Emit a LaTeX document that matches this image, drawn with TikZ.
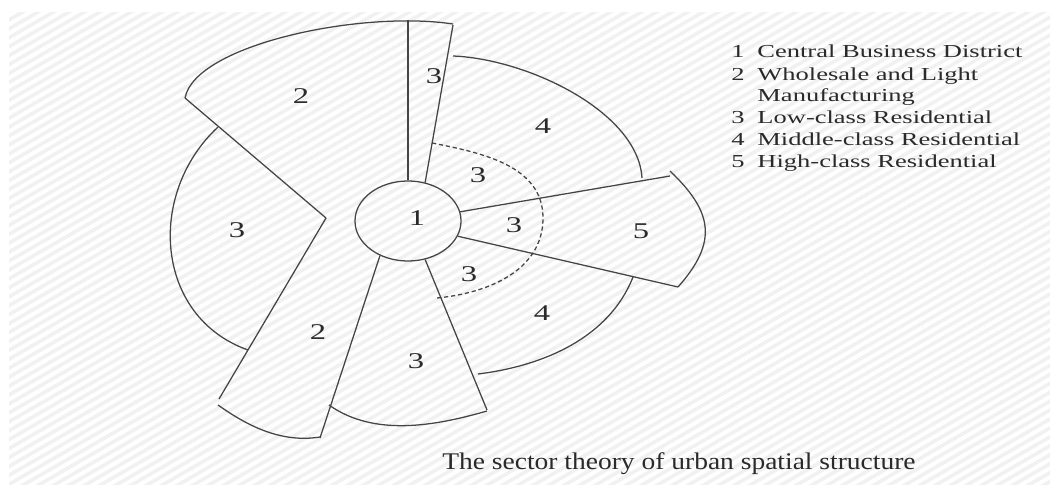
\documentclass[tikz,border=0pt]{standalone}
\usepackage{fontspec}
\setmainfont{Liberation Serif}
\usetikzlibrary{shapes.geometric,patterns.meta}
\definecolor{InkGray}{HTML}{454545}
\definecolor{TextGray}{HTML}{2A2A2A}
\definecolor{PaperGray}{HTML}{F1F1F1}

\begin{document}
\begin{tikzpicture}[x=0.025cm, y=-0.025cm,
  sectorline/.style={InkGray, line width=0.9pt, line join=round},
  ringline/.style={sectorline, dash pattern=on 3pt off 2pt},
  zonenum/.style={text=TextGray, font=\fontsize{16}{18}\selectfont, xscale=1.45, inner sep=0pt},
  legendtext/.style={text=TextGray, font=\fontsize{13}{15}\selectfont, xscale=1.45, inner sep=0pt, anchor=base west}]
  \useasboundingbox (0,0) rectangle (1050,485);
  \fill[white] (0,0) rectangle (1050,485);
  \fill[PaperGray] (9,12) rectangle (1050,485);
  \fill[pattern={Lines[angle=30, distance=5.5pt, line width=2.8pt]}, pattern color=white] (9,12) rectangle (1050,485);

  % central business district
  \node[draw=InkGray, line width=0.9pt, ellipse, minimum width=2.65cm, minimum height=2cm, inner sep=0pt] (cbd) at (408,221) {};

  % sector boundaries
  \draw[sectorline] (cbd.90) -- (408,20);
  \draw[sectorline] (cbd.66) -- (453,25);
  \draw[sectorline] (cbd.10) -- (670,176);
  \draw[sectorline] (cbd.-17) -- (678,287);
  \draw[sectorline] (cbd.-66) -- (487,410);
  \draw[sectorline] (cbd.231) -- (320,438);
  \draw[sectorline] (185,98) -- (326,218) -- (219,399);

  % outer edges
  \draw[sectorline] (185,98) .. controls (195,45) and (360,10) .. (453,24);
  \draw[sectorline] (218,127) .. controls (146,194) and (155,317) .. (248,350);
  \draw[sectorline] (453,56) .. controls (528,59) and (638,112) .. (642,178);
  \draw[sectorline] (670,171) .. controls (713,212) and (718,242) .. (678,287);
  \draw[sectorline] (633,277) .. controls (609,338) and (543,366) .. (478,374);
  \draw[sectorline] (329,405) .. controls (374,437) and (435,426) .. (487,411);
  \draw[sectorline] (218,405) .. controls (249,427) and (282,443) .. (320,437);
  \draw[ringline] (432,143) .. controls (483,153) and (543,166) .. (543,218)
                  .. controls (543,270) and (489,293) .. (437,298);

  % zone numbers
  \foreach \name/\x/\y/\num in {z1/417/218/1, z2a/301/96/2, z2b/318/332/2,
      z3a/434/76/3, z3b/237/230/3, z3c/478/175/3, z3d/514/225/3, z3e/469/274/3, z3f/416/361/3,
      z4a/543/126/4, z4b/542/313/4, z5/641/231/5} {
    \node[zonenum] (\name) at (\x,\y) {\num};
  }

  % key
  \foreach \y/\num/\label [count=\i] in {58/1/Central Business District, 81/2/Wholesale and Light,
      102//Manufacturing, 124/3/Low-class Residential, 146/4/Middle-class Residential,
      168/5/High-class Residential} {
    \node[legendtext] (key\i) at (731,\y) {\num};
    \node[legendtext] (entry\i) at (757,\y) {\label};
  }

  \node[text=TextGray, font=\fontsize{17}{19}\selectfont, xscale=1.15, inner sep=0pt, anchor=base west] (caption) at (442,469) {The sector theory of urban spatial structure};
\end{tikzpicture}
\end{document}
